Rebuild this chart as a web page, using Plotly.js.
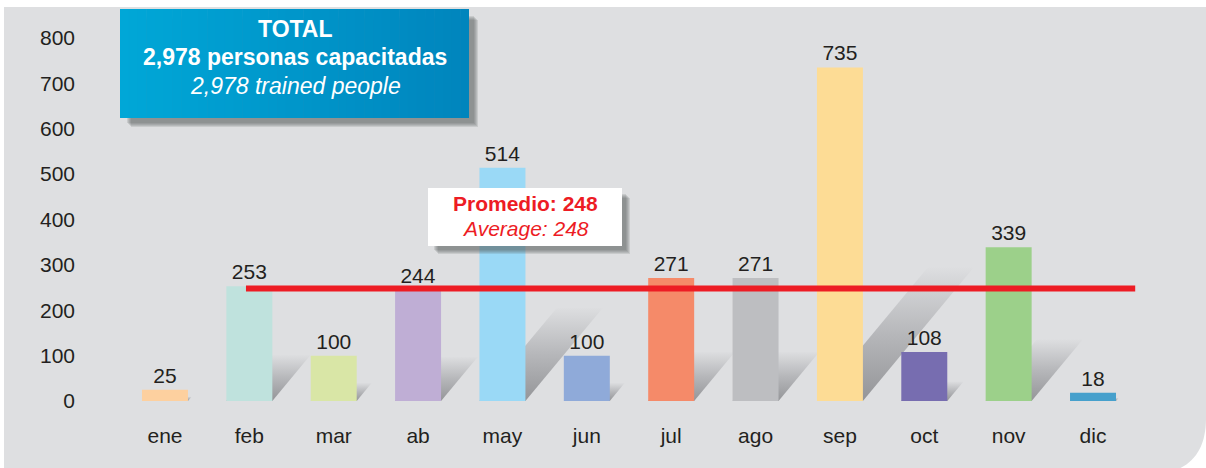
<!DOCTYPE html>
<html>
<head>
<meta charset="utf-8">
<script src="https://cdn.plot.ly/plotly-3.0.1.min.js"></script>
<style>
  html, body { margin: 0; padding: 0; background: #fff; }
  #plot-div { width: 1206px; height: 468px; }
</style>
</head>
<body>
<div id="plot-div"></div>
<script>
// monthly trained people
var months = ["ene", "feb", "mar", "ab", "may", "jun", "jul", "ago", "sep", "oct", "nov", "dic"];
var trained = [25, 253, 100, 244, 514, 100, 271, 271, 735, 108, 339, 18];
var barColors = ["#fdd09f", "#bfe2dd", "#d9e6a6", "#bfaed5", "#9ad9f6", "#8faad9",
                 "#f58a69", "#bdbec1", "#fddc95", "#776db0", "#9cd08a", "#46a0cc"];
var yTicks = [0, 100, 200, 300, 400, 500, 600, 700, 800];
var avgValue = 248;
var totalValue = 2978;

var W = 1206, H = 468;
var FONT = "Liberation Sans, Arial, sans-serif";
var INK = "#231f20";
var RED = "#ed1c24";

// pixel helpers for paper coordinates
function px(x) { return x / W; }
function py(y) { return 1 - y / H; }

var xDom = [122.8, 1135.2];
var yDom = [408, 8];
var xRange = [-0.5, 11.5];
var yRange = [-15.4, 866];
var pxPerX = (xDom[1] - xDom[0]) / (xRange[1] - xRange[0]);
var pxPerY = (yDom[0] - yDom[1]) / (yRange[1] - yRange[0]);
var barWidth = 0.545;

function fmt(n) {
  return n.toString().replace(/\B(?=(\d{3})+(?!\d))/g, ",");
}

var idx = months.map(function (_, i) { return i; });

// slanted gradient shadows behind bars
var data = [];
trained.forEach(function (v, i) {
  var hs = 0.4 * v;
  var s = (0.83 * hs * pxPerY) / pxPerX;
  var h = barWidth / 2;
  data.push({
    x: [i - h, i + h, i + h + s, i - h + s, i - h],
    y: [0, 0, hs, hs, 0],
    type: "scatter",
    mode: "lines",
    fill: "toself",
    line: { width: 0 },
    fillcolor: "#b0b1b3",
    fillgradient: {
      type: "vertical",
      colorscale: [[0, "#949598"], [0.5, "#b6b7ba"], [1, "#dddee0"]]
    },
    hoverinfo: "skip",
    showlegend: false,
    xaxis: "x",
    yaxis: "y"
  });
});

data.push({
  x: idx,
  y: trained,
  type: "bar",
  width: barWidth,
  marker: { color: barColors, line: { width: 0 } },
  text: trained.map(String),
  textposition: "outside",
  textfont: { family: FONT, size: 21, color: INK },
  cliponaxis: false,
  hoverinfo: "x+y",
  showlegend: false,
  xaxis: "x2",
  yaxis: "y2"
});

var shapes = [];
// grey panel with rounded bottom-right corner
shapes.push({
  type: "path", xref: "paper", yref: "paper", layer: "below",
  path: "M " + px(4) + "," + py(7) + " L " + px(1206) + "," + py(7) +
        " L " + px(1206) + "," + py(418) +
        " C " + px(1206) + "," + py(445) + " " + px(1196) + "," + py(462) + " " + px(1176) + "," + py(470) +
        " L " + px(4) + "," + py(470) + " Z",
  fillcolor: "#dedfe1", line: { width: 0 }
});

// average line
shapes.push({
  type: "line", xref: "x", yref: "y",
  x0: 0.96, x1: 11.56, y0: avgValue, y1: avgValue,
  line: { color: RED, width: 6 }
});

// soft drop shadow made of stacked rects
function dropShadow(x0, y0, x1, y1, off) {
  for (var k = 0; k < 5; k++) {
    var d = off - 2 + k;
    shapes.push({
      type: "rect", xref: "paper", yref: "paper",
      x0: px(x0 + d + 2), x1: px(x1 + d), y0: py(y0 + d + 2), y1: py(y1 + d),
      fillcolor: "rgba(90,92,96,0.16)", line: { width: 0 }
    });
  }
}

// Promedio box
dropShadow(428, 188, 622, 246, 6);
shapes.push({
  type: "rect", xref: "paper", yref: "paper",
  x0: px(428), x1: px(622), y0: py(246), y1: py(188),
  fillcolor: "#ffffff", line: { width: 0 }
});

// TOTAL box with horizontal gradient
dropShadow(120, 9, 469, 118, 7);
var c0 = [0, 167, 215], c1 = [0, 133, 189];
var strips = 40;
for (var k = 0; k < strips; k++) {
  var t = k / (strips - 1);
  var col = "rgb(" + c0.map(function (c, j) { return Math.round(c + (c1[j] - c) * t); }).join(",") + ")";
  var xa = 120 + (469 - 120) * k / strips;
  var xb = 120 + (469 - 120) * (k + 1) / strips + 0.6;
  shapes.push({
    type: "rect", xref: "paper", yref: "paper",
    x0: px(xa), x1: px(Math.min(xb, 469)), y0: py(118), y1: py(9),
    fillcolor: col, line: { width: 0 }
  });
}

function note(text, x, y, size, color) {
  return {
    text: text, xref: "paper", yref: "paper",
    x: px(x), y: py(y), xanchor: "center", yanchor: "middle",
    showarrow: false, font: { family: FONT, size: size, color: color }
  };
}

var annotations = [
  note("<b>TOTAL</b>", 295, 29, 23, "#ffffff"),
  note("<b>" + fmt(totalValue) + " personas capacitadas</b>", 295, 57, 23, "#ffffff"),
  note("<i>" + fmt(totalValue) + " trained people</i>", 295, 86, 23, "#ffffff"),
  note("<b>Promedio: " + avgValue + "</b>", 525, 203, 21, RED),
  note("<i>Average: " + avgValue + "</i>", 525, 228, 21, RED)
];

var layout = {
  width: W,
  height: H,
  margin: { l: 0, r: 0, t: 0, b: 0 },
  paper_bgcolor: "#ffffff",
  plot_bgcolor: "rgba(0,0,0,0)",
  font: { family: FONT, color: INK },
  showlegend: false,
  xaxis: {
    domain: [px(xDom[0]), px(xDom[1])],
    range: xRange,
    tickvals: idx,
    ticktext: months,
    ticks: "",
    ticklabelstandoff: 13,
    showgrid: false,
    zeroline: false,
    showline: false,
    tickfont: { family: FONT, size: 21, color: INK },
    fixedrange: true
  },
  yaxis: {
    domain: [py(yDom[0]), py(yDom[1])],
    range: yRange,
    tickvals: yTicks,
    ticks: "",
    anchor: "free",
    position: px(75),
    showgrid: false,
    zeroline: false,
    showline: false,
    tickfont: { family: FONT, size: 21, color: INK },
    fixedrange: true
  },
  xaxis2: { overlaying: "x", range: xRange, visible: false, fixedrange: true },
  yaxis2: { overlaying: "y", range: yRange, visible: false, anchor: "x2", fixedrange: true },
  shapes: shapes,
  annotations: annotations
};

Plotly.newPlot("plot-div", data, layout, { displayModeBar: false, staticPlot: true });
</script>
</body>
</html>
